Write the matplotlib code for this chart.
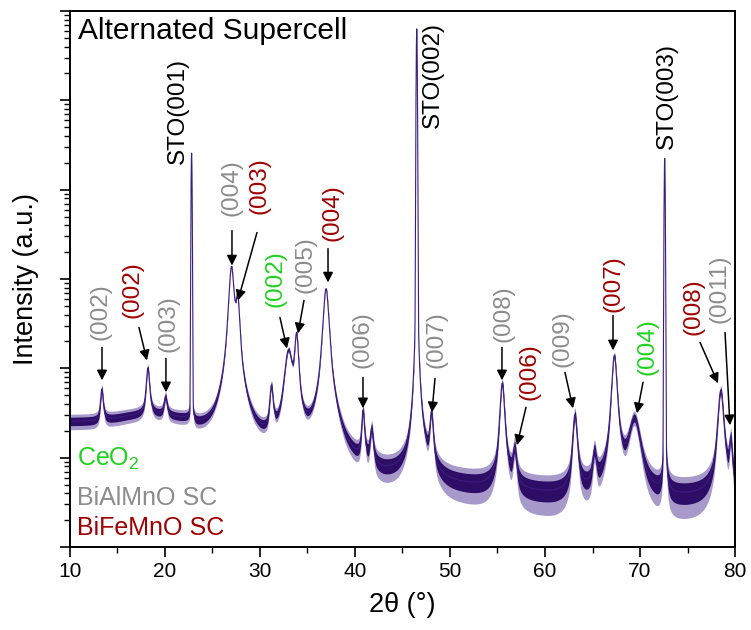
import numpy as np
import matplotlib
matplotlib.use("Agg")
import matplotlib.pyplot as plt

plt.rcParams['font.family'] = ['Liberation Sans', 'DejaVu Sans']
plt.rcParams['mathtext.fontset'] = 'custom'
plt.rcParams['mathtext.rm'] = 'Liberation Sans'
plt.rcParams['mathtext.it'] = 'Liberation Sans:italic'

# peaks: centre (2theta), log10 of top intensity, FWHM, lorentz fraction
peak_pos = [13.35, 18.2, 20.05, 22.80, 27.0, 27.65, 31.2, 33.0, 33.85, 36.95,
            40.85, 41.75, 46.50, 48.05, 55.5, 56.8, 63.15, 65.2, 67.3, 69.4,
            72.60, 78.5, 79.55]
peak_log = [1.76, 2.0, 1.66, 4.41, 3.13, 2.73, 1.72, 2.17, 2.35, 2.89,
            1.47, 1.25, 5.80, 1.45, 1.83, 1.05, 1.47, 1.0, 2.14, 1.42,
            4.35, 1.75, 1.16]
peak_fwhm = [0.3, 0.35, 0.35, 0.10, 0.5, 0.4, 0.35, 0.8, 0.4, 0.55,
             0.3, 0.35, 0.10, 0.35, 0.45, 0.4, 0.45, 0.4, 0.5, 1.2,
             0.10, 0.55, 0.3]
peak_eta = [0.8, 0.8, 0.8, 0.004, 0.8, 0.8, 0.8, 0.8, 0.8, 0.8,
            0.8, 0.8, 0.006, 0.8, 0.8, 0.8, 0.8, 0.8, 0.8, 0.8,
            0.004, 0.8, 0.8]

# background level (log10 counts) under the pattern
bg_x = [10, 13, 16, 18, 20, 22.5, 23.2, 25, 27, 29.5, 31, 33, 35.5, 37.5, 39,
        41, 43, 45, 47, 50, 54, 57, 61, 64, 67, 71, 74, 77, 80]
bg_log = [1.40, 1.40, 1.45, 1.47, 1.45, 1.38, 1.30, 1.18, 1.10, 1.02, 1.0, 1.0,
          1.0, 0.9, 0.78, 0.75, 0.72, 0.72, 0.70, 0.65, 0.62, 0.58, 0.55, 0.55,
          0.52, 0.50, 0.52, 0.55, 0.55]

# reflection labels: text, phase, text x, text bottom (log), arrow tail (x, log), arrow head (x, log)
labels = [
    ("(002)", "BAM", 13.16, 2.313, (13.37, 2.235), (13.37, 1.866)),
    ("(002)", "BFM", 16.63, 2.559, (17.26, 2.458), (18.10, 2.089)),
    ("(003)", "BAM", 20.42, 2.179, (20.10, 2.112), (20.10, 1.732)),
    ("(004)", "BAM", 27.05, 3.709, (27.05, 3.542), (27.05, 3.151)),
    ("(003)", "BFM", 30.00, 3.732, (29.68, 3.520), (27.68, 2.760)),
    ("(002)", "CeO", 31.58, 2.682, (32.10, 2.570), (32.84, 2.223)),
    ("(005)", "BAM", 34.74, 2.849, (34.63, 2.760), (34.00, 2.391)),
    ("(004)", "BFM", 37.58, 3.430, (37.16, 3.341), (37.16, 2.961)),
    ("(006)", "BAM", 40.84, 2.000, (40.84, 1.899), (40.84, 1.553)),
    ("(007)", "BAM", 48.63, 2.000, (48.42, 1.888), (48.10, 1.508)),
    ("(008)", "BAM", 55.58, 2.291, (55.47, 2.235), (55.47, 1.866)),
    ("(006)", "BFM", 58.32, 1.642, (58.00, 1.564), (57.05, 1.140)),
    ("(009)", "BAM", 61.89, 2.011, (62.10, 1.955), (62.95, 1.553)),
    ("(007)", "BFM", 67.16, 2.626, (67.16, 2.592), (67.16, 2.201)),
    ("(004)", "CeO", 70.74, 1.922, (70.32, 1.844), (69.68, 1.497)),
    ("(008)", "BFM", 75.58, 2.369, (76.32, 2.291), (78.21, 1.832)),
    ("(0011)", "BAM", 78.42, 2.503, (78.95, 2.402), (79.47, 1.363)),
]
sto_labels = [("STO(001)", 21.37, 4.291), ("STO(002)", 48.21, 4.693), ("STO(003)", 72.84, 4.458)]

phase_names = {"CeO": "CeO$_2$", "BAM": "BiAlMnO SC", "BFM": "BiFeMnO SC"}
phase_colors = {"CeO": "#1ed21e", "BAM": "#8c8c8c", "BFM": "#a00000"}

# build the pattern
x = np.linspace(10, 80, 7001)
bg = 10 ** np.interp(x, bg_x, bg_log)
y = bg.copy()
for c, h, w, eta in zip(peak_pos, peak_log, peak_fwhm, peak_eta):
    amp = 10 ** h - 10 ** np.interp(c, bg_x, bg_log)
    d = (x - c) / (w / 2)
    lor = 1 / (1 + d ** 2)
    gau = np.exp(-np.log(2) * d ** 2)
    y += amp * (eta * lor + (1 - eta) * gau)

# counting noise envelope (Poisson, sqrt of counts)
sq = np.sqrt(y)
lo_in = np.maximum(y - 0.55 * sq, 0.45 * y)
hi_in = y + 0.55 * sq
lo_out = np.maximum(y - 1.0 * sq, 0.35 * y)
hi_out = y + 1.0 * sq

fig = plt.figure(figsize=(7.51, 6.30), dpi=100)
ax = fig.add_axes([0.0932, 0.1317, 0.8855, 0.8508])

ax.fill_between(x, lo_out, hi_out, color='#7a62b0', lw=0, alpha=0.65)
ax.fill_between(x, lo_in, hi_in, color='#2e0d66', lw=0)
ax.plot(x, y, color='#3d1c80', lw=0.8)

ax.set_yscale('log')
ax.set_xlim(10, 80)
ax.set_ylim(1, 1e6)
ax.set_xticks(range(10, 81, 10))
ax.set_xticks(range(15, 80, 10), minor=True)
ax.yaxis.set_major_locator(matplotlib.ticker.LogLocator(base=10, numticks=10))
ax.yaxis.set_minor_locator(matplotlib.ticker.LogLocator(base=10, subs=np.arange(2, 10), numticks=20))
ax.yaxis.set_major_formatter(matplotlib.ticker.NullFormatter())
ax.yaxis.set_minor_formatter(matplotlib.ticker.NullFormatter())
ax.tick_params(which='major', direction='out', length=7, width=1.2, labelsize=15, top=False, right=False)
ax.tick_params(which='minor', direction='out', length=4, width=1.0, top=False, right=False)
for s in ax.spines.values():
    s.set_linewidth(1.4)

ax.set_xlabel('2θ (°)', fontsize=19.5, labelpad=8)
ax.set_ylabel('Intensity (a.u.)', fontsize=19.5, labelpad=12)

ax.text(0.012, 0.988, 'Alternated Supercell', transform=ax.transAxes, fontsize=21.5,
        va='top', ha='left')

for txt, ph, tx, ty, tail, head in labels:
    ax.text(tx, 10 ** ty, txt, rotation=90, ha='center', va='bottom',
            fontsize=17.5, color=phase_colors[ph])
    ax.annotate('', xy=(head[0], 10 ** head[1]), xytext=(tail[0], 10 ** tail[1]),
                arrowprops=dict(arrowstyle='-|>', color='black', lw=1.1,
                                shrinkA=0, shrinkB=0, mutation_scale=15))

for txt, tx, ty in sto_labels:
    ax.text(tx, 10 ** ty, txt, rotation=90, ha='center', va='bottom',
            fontsize=17.5, color='black')

for key, yy in zip(["CeO", "BAM", "BFM"], [0.151, 0.078, 0.022]):
    ax.text(0.0105, yy, phase_names[key], transform=ax.transAxes, fontsize=18,
            color=phase_colors[key], ha='left', va='baseline')

fig.savefig('out.png', dpi=100)
